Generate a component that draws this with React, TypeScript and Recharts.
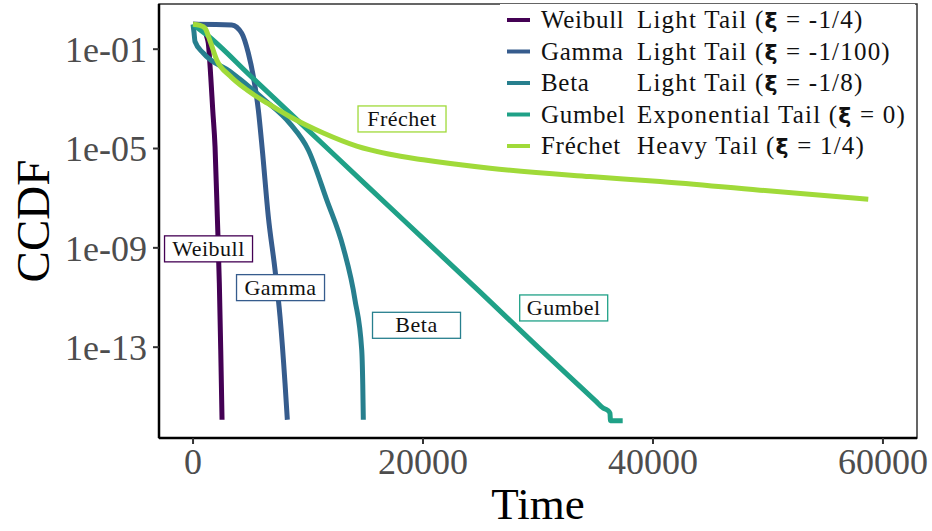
import {
  LineChart,
  Line,
  XAxis,
  YAxis,
  Legend,
  ReferenceArea,
  ReferenceDot,
} from "recharts";

// CCDF readings for each fitted tail, time in the same units as the x axis
const weibullTime = [0, 500, 900, 1191, 1330, 1539, 1713, 1913, 2113, 2287, 2409, 2522];
const weibullCcdf = [1, 0.98, 0.8, 0.32, 0.17, 8e-3, 3.6e-4, 1.2e-5, 1.8e-8, 3.8e-11, 7.8e-14, 1.2e-16];

const gammaTime = [0, 2000, 3365, 4235, 4809, 5244, 5678, 6026, 6548, 7131, 7565, 8000, 8200];
const gammaCcdf = [1, 0.995, 0.95, 0.44, 0.069, 7.9e-3, 3.6e-4, 8.7e-6, 1.8e-8, 1.3e-10, 1.7e-12, 3.5e-15, 1.2e-16];

const betaTime = [0, 80, 174, 896, 3217, 6113, 8435, 10026, 11626, 13070, 14087, 14670, 14760, 14809];
const betaCcdf = [1, 0.5, 0.2, 0.069, 0.0126, 1.0e-3, 1.0e-4, 8.7e-6, 8.5e-8, 1.0e-9, 7.9e-12, 7.8e-14, 3.2e-15, 1.2e-16];

const gumbelTime = [0, 300, 1191, 5000, 10000, 15000, 20000, 25000, 30000, 35000, 35678, 36000, 36261, 36300, 37366];
const gumbelCcdf = [1, 0.78, 0.38, 8.3e-3, 5.5e-5, 3.6e-7, 2.4e-9, 1.6e-11, 1.0e-13, 6.9e-16, 3.5e-16, 3.0e-16, 2.2e-16, 1.1e-16, 1.1e-16];

const frechetTime = [0, 600, 1043, 1500, 2061, 3200, 4670, 6500, 8435, 11330, 14235, 17000, 20026, 25826, 34522, 40609, 49305, 58722];
const frechetCcdf = [1, 0.9, 0.7, 0.2, 0.037, 8.5e-3, 2.3e-3, 6.5e-4, 1.9e-4, 4.2e-5, 1.25e-5, 6.0e-6, 3.5e-6, 1.6e-6, 7.4e-7, 4.7e-7, 2.1e-7, 9.1e-8];

const seriesNames = ["Weibull", "Gamma", "Beta", "Gumbel", "Fréchet"];
const seriesTails = ["Light Tail", "Light Tail", "Light Tail", "Exponential Tail", "Heavy Tail"];
const seriesXi = ["-1/4", "-1/100", "-1/8", "0", "1/4"];
const seriesColors = ["#440154", "#365C8D", "#277F8E", "#1FA187", "#A0DA39"];

// where each name tag sits (time, ccdf)
const tagTime = [1348, 7609, 19435, 32235, 18174];
const tagCcdf = [9.1e-10, 2.5e-11, 7.6e-13, 3.8e-12, 1.55e-4];

const xTicks = [0, 20000, 40000, 60000];
const yTicks = [1e-13, 1e-9, 1e-5, 1e-1];
const xDomain = [-2960, 62960];
const yDomain = [2.2e-17, 6.6];

const toPoints = (time: number[], ccdf: number[]) =>
  time.map((t, i) => ({ t, p: ccdf[i] }));

const series = [
  toPoints(weibullTime, weibullCcdf),
  toPoints(gammaTime, gammaCcdf),
  toPoints(betaTime, betaCcdf),
  toPoints(gumbelTime, gumbelCcdf),
  toPoints(frechetTime, frechetCcdf),
];

const FONT = "'Liberation Serif', 'DejaVu Serif', serif";

const formatPow = (v: number) => {
  const e = Math.round(Math.log10(v));
  return "1e" + (e < 0 ? "-" : "+") + String(Math.abs(e)).padStart(2, "0");
};

const NameTag = (props: any) => {
  const { cx, cy, color, text } = props;
  return (
    <g>
      <rect x={cx - 44} y={cy - 13} width={88} height={26} fill="#fff" stroke={color} strokeWidth={1.3} />
      <text
        x={cx}
        y={cy + 7}
        textAnchor="middle"
        fontFamily={FONT}
        fontSize={22}
        letterSpacing={0.5}
        fill="#111"
      >
        {text}
      </text>
    </g>
  );
};

const LegendBox = () => (
  <svg width={425} height={160} style={{ display: "block" }}>
    <rect x={0} y={0} width={415} height={160} fill="#fff" />
    {seriesNames.map((name, i) => {
      const y = 16 + i * 31.5;
      return (
        <g key={name}>
          <line x1={7} x2={30} y1={y} y2={y} stroke={seriesColors[i]} strokeWidth={4} />
          <text x={41} y={y + 8} fontFamily={FONT} fontSize={25} letterSpacing={0.7} fill="#111">
            {name}
          </text>
          <text x={137} y={y + 8} fontFamily={FONT} fontSize={25} letterSpacing={1.2} fill="#111">
            {seriesTails[i]} (
            <tspan fontWeight="bold" fontFamily="'DejaVu Sans', sans-serif" fontSize={22}>ξ</tspan>
            {" = " + seriesXi[i] + ")"}
          </text>
        </g>
      );
    })}
  </svg>
);

const YTitle = (props: any) => {
  const { viewBox } = props;
  const cy = viewBox.y + viewBox.height / 2;
  return (
    <text
      x={33}
      y={cy}
      transform={`rotate(-90, 33, ${cy})`}
      textAnchor="middle"
      dominantBaseline="central"
      fontFamily={FONT}
      fontSize={47}
      fill="#000"
    >
      CCDF
    </text>
  );
};

const XTitle = (props: any) => {
  const { viewBox } = props;
  return (
    <text
      x={viewBox.x + viewBox.width / 2}
      y={519}
      textAnchor="middle"
      fontFamily={FONT}
      fontSize={45}
      fill="#000"
    >
      Time
    </text>
  );
};

export default function App() {
  return (
    <div style={{ position: "absolute", left: 0, top: 0, background: "#fff" }}>
      <LineChart width={932} height={531} margin={{ top: 4, right: 15, bottom: 0, left: 0 }}>
        <ReferenceArea
          x1={xDomain[0]}
          x2={xDomain[1]}
          y1={yDomain[0]}
          y2={yDomain[1]}
          fill="none"
          stroke="#333"
          strokeWidth={1.5}
          ifOverflow="visible"
        />
        <XAxis
          type="number"
          dataKey="t"
          domain={xDomain}
          ticks={xTicks}
          allowDataOverflow
          height={93}
          tickSize={6}
          tickMargin={4}
          axisLine={{ stroke: "#000", strokeWidth: 2.5 }}
          tickLine={{ stroke: "#333", strokeWidth: 2 }}
          tick={{ fill: "#4D4D4D", fontSize: 36, fontFamily: FONT }}
          label={{ content: (p: any) => <XTitle {...p} /> }}
        />
        <YAxis
          type="number"
          scale="log"
          domain={yDomain}
          ticks={yTicks}
          allowDataOverflow
          width={159}
          tickSize={6}
          tickMargin={6}
          tickFormatter={formatPow}
          axisLine={{ stroke: "#000", strokeWidth: 2.5 }}
          tickLine={{ stroke: "#333", strokeWidth: 2 }}
          tick={{ fill: "#4D4D4D", fontSize: 36, fontFamily: FONT }}
          label={{ content: (p: any) => <YTitle {...p} /> }}
        />
        {series.map((pts, i) => (
          <Line
            key={seriesNames[i]}
            data={pts}
            dataKey="p"
            name={seriesNames[i]}
            type="monotone"
            stroke={seriesColors[i]}
            strokeWidth={5}
            dot={false}
            isAnimationActive={false}
          />
        ))}
        {seriesNames.map((name, i) => (
          <ReferenceDot
            key={"tag-" + name}
            x={tagTime[i]}
            y={tagCcdf[i]}
            shape={(p: any) => <NameTag {...p} color={seriesColors[i]} text={name} />}
          />
        ))}
        <Legend
          verticalAlign="middle"
          align="center"
          layout="horizontal"
          wrapperStyle={{ top: 4, left: 500, width: 425, height: 160 }}
          content={() => <LegendBox />}
        />
      </LineChart>
    </div>
  );
}
